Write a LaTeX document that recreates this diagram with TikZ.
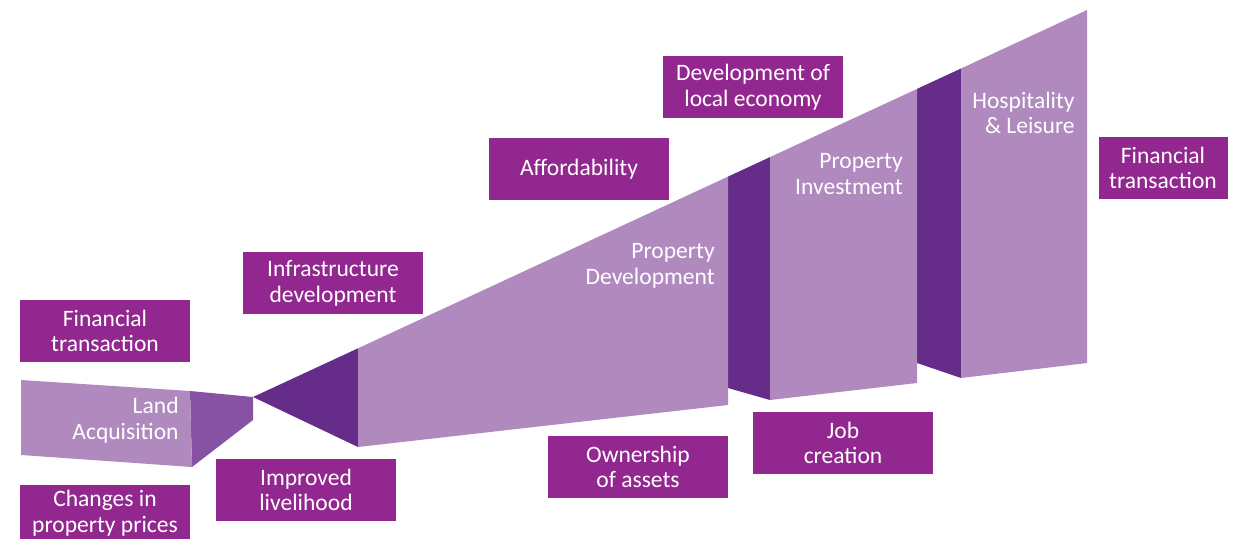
\documentclass[tikz,border=0pt]{standalone}
\usepackage{fontspec}
\setmainfont{Carlito}
\definecolor{facelight}{HTML}{B08ABF}
\definecolor{facedark}{HTML}{652D89}
\definecolor{facemid}{HTML}{8751A4}
\definecolor{boxpurple}{HTML}{92278F}
\tikzset{
  effect/.style={fill=boxpurple, text=white, inner sep=0pt, minimum width=3.6cm,
    minimum height=1.24cm, align=center, font=\fontsize{13.4}{14.6}\selectfont},
  stage/.style={text=white, inner sep=0pt, anchor=east, align=right,
    font=\fontsize{13.4}{14.6}\selectfont}
}
\begin{document}
\begin{tikzpicture}[x=0.02cm,y=-0.02cm]
\useasboundingbox (0,0) rectangle (1239,538);
% land acquisition block
\fill[facemid] (190,391) -- (253,397) -- (253,420) -- (192,467) -- cycle;
\fill[facelight] (21,380) -- (190,391) -- (192,467) -- (21,455) -- cycle;
% funnel
\fill[facedark] (253,397) -- (358,348.3) -- (358,447) -- cycle;
\fill[facedark] (728,176.6) -- (770,157.1) -- (770,400) -- (728,388) -- cycle;
\fill[facedark] (917,88.9) -- (961,68.5) -- (961,378) -- (917,363) -- cycle;
\fill[facelight] (358,348.3) -- (728,176.6) -- (728,405) -- (358,447) -- cycle;
\fill[facelight] (770,157.1) -- (917,88.9) -- (917,383) -- (770,400) -- cycle;
\fill[facelight] (961,68.5) -- (1087,10) -- (1087,363) -- (961,378) -- cycle;
% stage names
\node[stage] (land) at (179,420) {Land\\Acquisition};
\node[stage] (develop) at (715,266) {Property\\Development};
\node[stage] (invest) at (903,174) {Property\\Investment};
\node[stage] (leisure) at (1075,113) {Hospitality\\\& Leisure};
% effects
\node[effect, minimum width=3.4cm] (finleft) at (105,331) {Financial\\transaction};
\node[effect, minimum width=3.4cm, minimum height=1.12cm] (prices) at (105,513) {Changes in\\property prices};
\node[effect] (livelihood) at (306,490) {Improved\\livelihood};
\node[effect] (infra) at (333,283) {Infrastructure\\development};
\node[effect] (afford) at (579,169) {Affordability};
\node[effect] (economy) at (753,87) {Development of\\local economy};
\node[effect] (assets) at (638,467) {Ownership\\of assets};
\node[effect] (jobs) at (843,443) {Job\\creation};
\node[effect, minimum width=2.58cm] (finright) at (1163,168) {Financial\\transaction};
\end{tikzpicture}
\end{document}
